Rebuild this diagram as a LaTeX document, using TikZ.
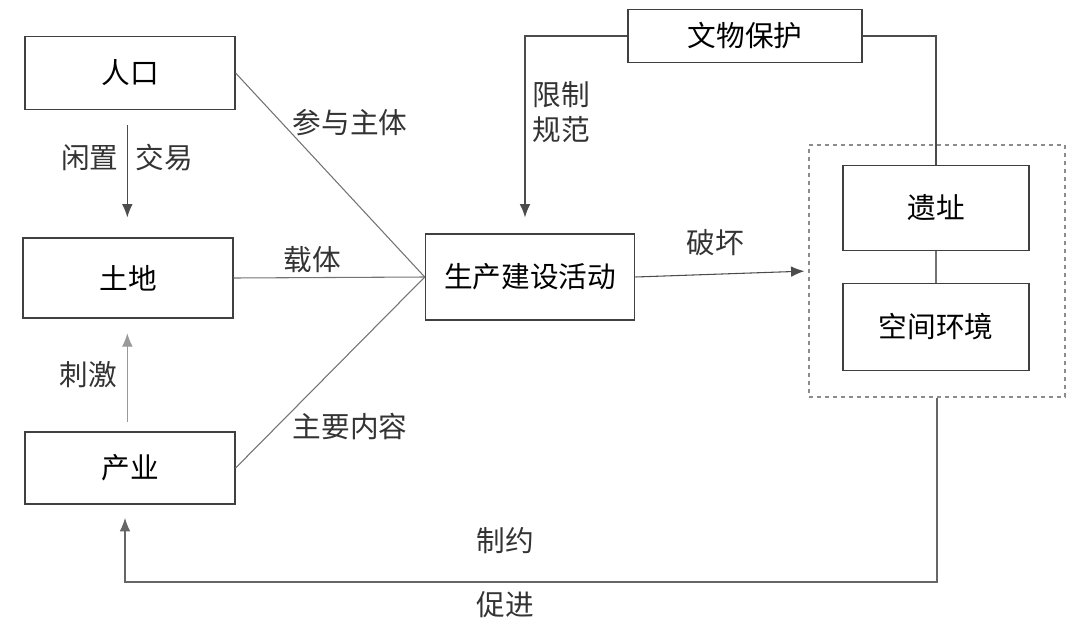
\documentclass[tikz,border=0pt]{standalone}
\usepackage{fontspec}
\setmainfont{Noto Sans CJK SC}
\usetikzlibrary{arrows.meta}

\begin{document}
\begin{tikzpicture}[x=0.75pt, y=-0.75pt, font=\fontsize{21.5}{26}\selectfont]
        \tikzstyle{block}=[draw=black!75, rectangle, inner sep=0pt, line width=0.9pt, align=center];
        \tikzstyle{link}=[draw=black!55, line width=0.8pt];
        \tikzstyle{flow}=[draw=black!70, line width=0.8pt, -{Latex[length=10pt, width=8pt]}];
        \tikzstyle{tag}=[inner sep=0pt, text=black!80];

        \useasboundingbox (0,0) rectangle (1080,628);

        % left column
        \node[block, minimum width=157.5pt, minimum height=55pt] (renkou) at (130,73) {人口};
        \node[block, minimum width=157.5pt, minimum height=60pt] (tudi) at (128,278) {土地};
        \node[block, minimum width=157.5pt, minimum height=54pt] (chanye) at (130,468) {产业};

        % middle and right
        \node[block, minimum width=157pt, minimum height=64.5pt] (jianshe) at (530,277) {生产建设活动};
        \node[block, minimum width=175.5pt, minimum height=40pt] (wenwu) at (745,36) {文物保护};
        \node[block, minimum width=139.5pt, minimum height=64pt] (yizhi) at (936,208) {遗址};
        \node[block, minimum width=139.5pt, minimum height=65pt] (kongjian) at (936,327) {空间环境};
        \node[draw=black!45, dashed, line width=0.9pt, minimum width=192pt, minimum height=189pt] (env) at (937,271) {};

        \draw[link] (renkou.east) -- (jianshe.west);
        \draw[link] (tudi.east) -- (jianshe.west);
        \draw[link] (chanye.east) -- (jianshe.west);

        \draw[flow, shorten <=11pt, shorten >=15pt] ([xshift=-2pt]renkou.south) -- ([xshift=-0.5pt]tudi.north);
        \draw[flow, draw=black!40, shorten <=7pt, shorten >=11pt] ([xshift=-2pt]chanye.north) -- ([xshift=-0.5pt]tudi.south);

        \draw[flow, shorten >=12pt] (wenwu.west) -| ([xshift=-3.75pt]jianshe.north);
        \draw[link, draw=black!70] (wenwu.east) -| (yizhi.north);
        \draw[link] (yizhi.south) -- (kongjian.north);
        \draw[flow, shorten >=3pt] (jianshe.east) -- (env.west);

        \coordinate (corner) at (937,582);
        \draw[flow, draw=black!60, shorten >=10pt] (env.south) -- (corner) -| ([xshift=-3.75pt]chanye.south);

        % labels
        \node[tag] (l1) at (127,158) {闲置\hspace{0.6em}交易};
        \node[tag] (l2) at (88,375) {刺激};
        \node[tag] (l3) at (350,123) {参与主体};
        \node[tag] (l4) at (312,260) {载体};
        \node[tag] (l5) at (350,427) {主要内容};
        \node[tag, align=left] (l6) at (561,112) {限制\\规范};
        \node[tag] (l7) at (715,243) {破坏};
        \node[tag] (l8) at (505,541) {制约};
        \node[tag] (l9) at (505,605) {促进};
\end{tikzpicture}
\end{document}
